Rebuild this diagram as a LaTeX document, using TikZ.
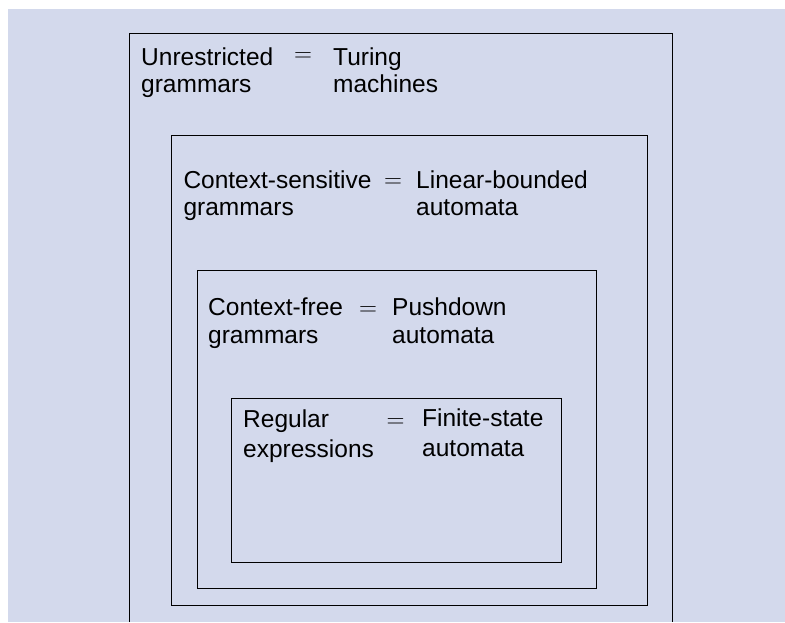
\documentclass[tikz,border=0pt]{standalone}
\usepackage{fontspec}
\setmainfont{Liberation Sans}
\usetikzlibrary{positioning}
\definecolor{bgBlue}{HTML}{D3D9EC}
\tikzset{
  frame/.style={draw=black, line width=1pt},
  txt/.style={font=\fontsize{24.5}{27}\selectfont, align=left, inner sep=0pt, anchor=base west},
  eqsign/.style={font=\fontsize{24.5}{27}\selectfont, inner sep=0pt},
}

\begin{document}
\begin{tikzpicture}[x=1pt,y=-1pt]
  \useasboundingbox (0,0) rectangle (785,622);
  \fill[bgBlue] (8,9) rectangle (785,622);
  % nested boxes, outer to inner
  \draw[frame] (129.5,622) -- (129.5,33) -- (672.5,33) -- (672.5,622);
  \draw[frame] (171.5,135) rectangle (647,605);
  \draw[frame] (197.5,270) rectangle (596,588);
  \draw[frame] (231.5,398) rectangle (561.5,562);
  % unrestricted (base = last line)
  \node[txt] (ugram) at (141,92) {Unrestricted\\grammars};
  \node[eqsign] (ueq) at (303,57) {$=$};
  \node[txt] (utm) at (333,92) {Turing\\machines};
  % context-sensitive
  \node[txt] (csgram) at (183.3,215) {Context-sensitive\\grammars};
  \node[eqsign] (cseq) at (393,183) {$=$};
  \node[txt] (cslba) at (416,215) {Linear-bounded\\automata};
  % context-free
  \node[txt, font=\fontsize{24.5}{28}\selectfont] (cfgram) at (208,343) {Context-free\\grammars};
  \node[eqsign] (cfeq) at (368,311) {$=$};
  \node[txt, font=\fontsize{24.5}{28}\selectfont] (cfpda) at (392,343) {Pushdown\\automata};
  % regular
  \node[txt, font=\fontsize{24.5}{30}\selectfont] (regex) at (243,457) {Regular\\expressions};
  \node[eqsign] (regeq) at (395.5,423) {$=$};
  \node[txt, font=\fontsize{24.5}{30}\selectfont] (regfsa) at (422,456) {Finite-state\\automata};
\end{tikzpicture}
\end{document}
